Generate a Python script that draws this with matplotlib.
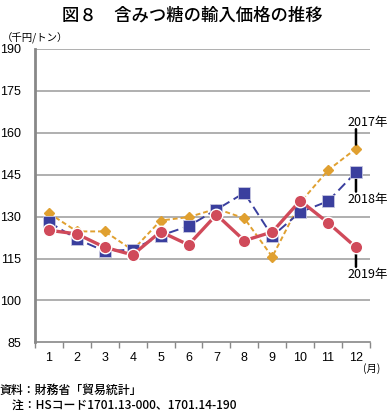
import matplotlib
matplotlib.use("Agg")
import matplotlib.pyplot as plt

plt.rcParams['font.family'] = ['Noto Sans CJK JP', 'DejaVu Sans']
num_font = ['Liberation Sans', 'Noto Sans CJK JP']

# data (千円/トン)
months = [1, 2, 3, 4, 5, 6, 7, 8, 9, 10, 11, 12]
month_labels = [str(m) for m in months]
v2017 = [131.2, 124.7, 124.7, 118.0, 128.6, 129.8, 132.8, 129.4, 115.6, 135.0, 146.6, 154.3]
v2018 = [128.0, 122.0, 117.6, 118.2, 123.2, 126.6, 132.5, 138.5, 123.0, 131.6, 135.5, 145.9]
v2019 = [125.1, 123.8, 119.0, 116.3, 124.6, 119.9, 130.7, 121.4, 124.5, 135.7, 127.8, 119.0]
yticks = [85, 100, 115, 130, 145, 160, 175, 190]

fig = plt.figure(figsize=(3.89, 4.11), dpi=100)
ax = fig.add_axes([0.09, 0.167, 0.861, 0.714])

for y in yticks[1:]:
    ax.axhline(y, color='#9a9a9a', lw=1.1, zorder=1)

ax.plot(months, v2017, color='#E0A030', lw=1.4, ls=(0, (2.5, 1.5)), marker='D',
        ms=5, mec='#E0A030', zorder=3)
ax.plot(months, v2018, color='#3A3F9E', lw=1.4, ls=(0, (5, 2.5)), marker='s',
        ms=8.5, mec='#c8c8e0', mew=0.6, zorder=4)
ax.plot(months, v2019, color='#D04A5A', lw=2.4, marker='o',
        ms=9, mec='white', mew=1.0, zorder=5)

ax.set_xlim(0.5, 12.5)
ax.set_ylim(85, 190)
ax.set_yticks(yticks)
ax.set_yticklabels([str(t) for t in yticks], fontsize=9, family=num_font)
ax.tick_params(axis='y', length=0, pad=10)
ax.set_xticks(months)
ax.set_xticklabels(month_labels, fontsize=9, family=num_font)
ax.set_xticks([m + 0.5 for m in [0] + months], minor=True)
ax.tick_params(axis='x', which='major', length=0, pad=7)
ax.tick_params(axis='x', which='minor', length=4, color='#888888', width=1)

for s in ['top', 'right']:
    ax.spines[s].set_visible(False)
ax.spines['left'].set_color('#888888')
ax.spines['left'].set_linewidth(2)
ax.spines['bottom'].set_color('#888888')
ax.spines['bottom'].set_linewidth(1.2)

# series labels: short leader line from the last point, text slightly to the right
arrow = dict(arrowstyle='-', color='black', lw=1.8, shrinkA=0, shrinkB=3)
for vals, label, up in [(v2017, '2017年', True), (v2018, '2018年', False), (v2019, '2019年', False)]:
    dy = 14 if up else -14
    ax.annotate('', xy=(12, vals[-1]), xytext=(0, dy), textcoords='offset points',
                arrowprops=arrow)
    ax.annotate(label, xy=(12, vals[-1]), xytext=(-6, dy + (0 if up else -1)),
                textcoords='offset points', ha='left',
                va='bottom' if up else 'top', fontsize=9)

fig.text(0.495, 0.963, '図８　含みつ糖の輸入価格の推移', ha='center', va='center', fontsize=12.5,
         weight='medium')
fig.text(0.005, 0.907, '（千円/トン）', ha='left', va='center', fontsize=7.5)
fig.text(0.934, 0.104, '(月)', ha='left', va='center', fontsize=7.5)
fig.text(0.0, 0.051, '資料：財務省「貿易統計」', ha='left', va='center', fontsize=8.6, weight='medium')
fig.text(0.0, 0.015, '　注：HSコード1701.13-000、1701.14-190', ha='left', va='center', fontsize=8.6,
         weight='medium')

fig.savefig('out.png', dpi=100)
